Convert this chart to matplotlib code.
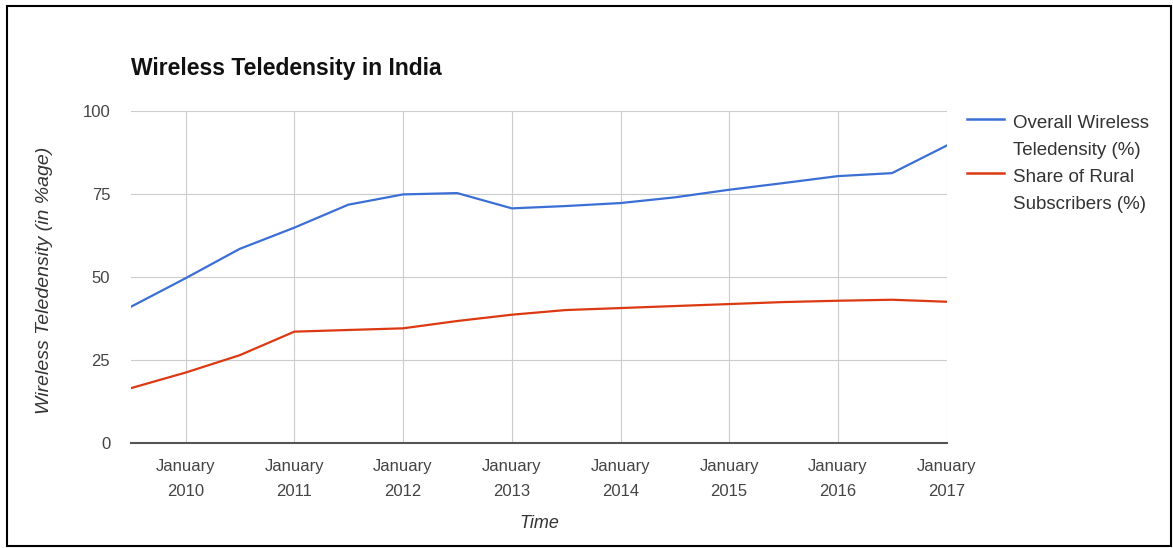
import matplotlib
matplotlib.use("Agg")
import matplotlib.pyplot as plt
import pandas as pd
from matplotlib.lines import Line2D
from matplotlib.patches import Rectangle

# half-yearly readings
months = ["2009-07", "2010-01", "2010-07", "2011-01", "2011-07", "2012-01",
          "2012-07", "2013-01", "2013-07", "2014-01", "2014-07", "2015-01",
          "2015-07", "2016-01", "2016-07", "2017-01"]
overall = [41.1, 49.7, 58.5, 64.9, 71.8, 74.9, 75.3, 70.7, 71.4, 72.3,
           74.0, 76.3, 78.3, 80.4, 81.3, 89.6]
rural = [16.6, 21.3, 26.5, 33.6, 34.1, 34.6, 36.8, 38.7, 40.1, 40.7,
         41.3, 41.9, 42.5, 42.9, 43.2, 42.6]

tick_dates = ["2010-01", "2011-01", "2012-01", "2013-01", "2014-01",
              "2015-01", "2016-01", "2017-01"]
tick_labels = ["January\n2010", "January\n2011", "January\n2012", "January\n2013",
               "January\n2014", "January\n2015", "January\n2016", "January\n2017"]
y_ticks = [0, 25, 50, 75, 100]

series_names = ["Overall Wireless\nTeledensity (%)", "Share of Rural\nSubscribers (%)"]
blue = "#3b6fd6"
red = "#dc3912"

plt.rcParams['font.family'] = ['Liberation Sans', 'DejaVu Sans']
narrow = ['Liberation Sans Narrow', 'Liberation Sans', 'DejaVu Sans']

x = pd.to_datetime(months)
xt = pd.to_datetime(tick_dates)

fig = plt.figure(figsize=(11.73, 5.48), dpi=100)
ax = fig.add_axes([131 / 1173, 1 - 443.3 / 548, 815.7 / 1173, 332.3 / 548])

ax.plot(x, overall, color=blue, lw=1.6, solid_joinstyle='round')
ax.plot(x, rural, color=red, lw=1.6, solid_joinstyle='round')

ax.set_xlim(x[0], x[-1])
ax.set_ylim(0, 100)
ax.set_yticks(y_ticks)
ax.set_yticklabels([str(v) for v in y_ticks], fontsize=12, color='#444444')
ax.set_xticks(xt)
ax.set_xticklabels(tick_labels, fontsize=12, color='#444444',
                   family=narrow, linespacing=1.85)
ax.tick_params(axis='both', length=0)
ax.tick_params(axis='y', pad=15)
ax.tick_params(axis='x', pad=11)

ax.grid(True, color='#cccccc', lw=0.8)
ax.set_axisbelow(True)
for s in ['left', 'right', 'top']:
    ax.spines[s].set_visible(False)
ax.spines['bottom'].set_color('#555555')
ax.spines['bottom'].set_linewidth(1.5)
ax.spines['bottom'].set_zorder(5)

fig.text(131 / 1173, 1 - 68.5 / 548, "Wireless Teledensity in India",
         fontsize=16.5, fontweight='bold', ha='left', va='center', color='#111111')
fig.text(45 / 1173, 1 - 280 / 548, "Wireless Teledensity (in %age)",
         fontsize=14, style='italic', rotation=90, ha='center', va='center',
         color='#333333')
fig.text(539 / 1173, 1 - 523 / 548, "Time", fontsize=13, style='italic',
         family=narrow, ha='center', va='center', color='#333333')

# legend, handle next to first line of each label
for name, col, ly in zip(series_names, [blue, red], [119.3, 172.7]):
    fig.add_artist(Line2D([967 / 1173, 1004 / 1173], [1 - ly / 548, 1 - ly / 548],
                          color=col, lw=1.8, transform=fig.transFigure))
    for i, part in enumerate(name.split("\n")):
        fig.text(1013 / 1173, 1 - (ly + 9 + 27 * i) / 548, part, fontsize=13.5,
                 ha='left', va='baseline', color='#333333')

fig.add_artist(Rectangle((7 / 1173, 2 / 548), 1164 / 1173, 540 / 548,
                         fill=False, ec='black', lw=1.5, transform=fig.transFigure))

fig.savefig("out.png", dpi=100)
